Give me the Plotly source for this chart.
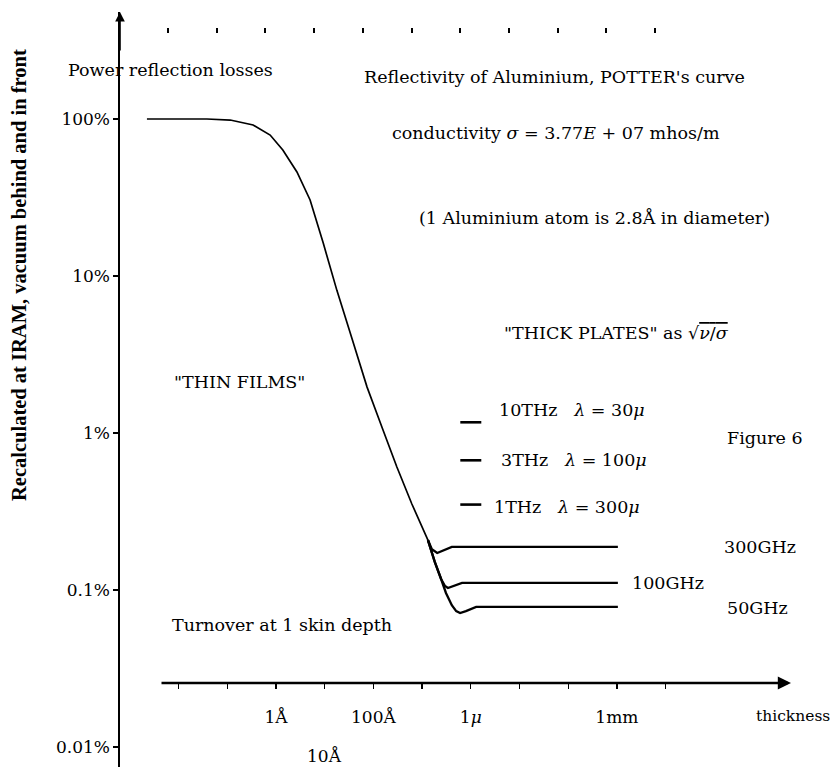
import plotly.graph_objects as go

# ---------------- data ----------------
# thickness as log10(d / Angstrom); power reflection losses in percent
thin_logd = [-2.65, -1.97, -1.42, -0.94, -0.47, -0.12, 0.14, 0.43, 0.70, 0.97,
             1.25, 1.56, 1.87, 2.18, 2.48, 2.79, 3.12]
thin_loss = [100, 100, 100, 98.5, 91.6, 79, 63.5, 46, 30.5, 16.2,
             8.1, 4.0, 1.96, 1.08, 0.61, 0.353, 0.208]

f300_logd = [3.20, 3.31, 3.43, 3.61, 7.02]
f300_loss = [0.182, 0.172, 0.178, 0.188, 0.188]

f100_logd = [3.26, 3.39, 3.47, 3.53, 3.63, 3.82, 7.02]
f100_loss = [0.151, 0.1175, 0.106, 0.103, 0.106, 0.111, 0.111]

f50_logd = [3.26, 3.39, 3.49, 3.61, 3.70, 3.78, 3.90, 4.11, 7.02]
f50_loss = [0.151, 0.1175, 0.0957, 0.080, 0.0734, 0.0714, 0.0734, 0.078, 0.078]

plate_names = ["300GHz", "100GHz", "50GHz"]

thick_names = ["10THz", "3THz", "1THz"]
thick_lambda = ["30", "100", "300"]
thick_logd = [4.0, 4.0, 4.0]
thick_loss = [1.17, 0.67, 0.35]

ytick_vals = [100, 10, 1, 0.1, 0.01]
ytick_text = ["100%", "10%", "1%", "0.1%", "0.01%"]
xtick_vals = [-2, -1, 0, 1, 2, 3, 4, 5, 6, 7, 8]
xtick_text = ["", "", "1Å", "", "100Å", "", "1<i>μ</i>", "", "", "1mm", ""]
xtick_low_val = 1
xtick_low_text = "10Å"

# ---------------- geometry helpers (pixels -> paper) ----------------
FW, FH = 833, 767
L, R, T, B = 120, 791, 12, 767


def pxx(x):
    return (x - L) / (R - L)


def pyy(y):
    return (B - y) / (B - T)


X0, XD = 276.0, 48.7      # pixel of 1 Angstrom, pixels per decade
Y0, YD = 119.0, 157.0     # pixel of 100 %, pixels per decade
x_range = [(L - X0) / XD, (R - X0) / XD]
y_range = [2 - (B - Y0) / YD, 2 + (Y0 - T) / YD]
top_shift = 10.6 / XD

SERIF = "DejaVu Serif"
INK = "#000000"

fig = go.Figure()

fig.add_trace(go.Scatter(x=thin_logd, y=thin_loss, mode="lines",
                         line=dict(color=INK, width=1.7), showlegend=False,
                         hoverinfo="skip"))
for lx, ly in [(f300_logd, f300_loss), (f100_logd, f100_loss), (f50_logd, f50_loss)]:
    fig.add_trace(go.Scatter(x=[thin_logd[-1]] + lx, y=[thin_loss[-1]] + ly,
                             mode="lines", line=dict(color=INK, width=2.3),
                             showlegend=False, hoverinfo="skip"))

fig.add_trace(go.Scatter(x=thick_logd, y=thick_loss, mode="markers",
                         marker=dict(symbol="line-ew", size=15,
                                     line=dict(width=2.6, color=INK)),
                         showlegend=False, hoverinfo="skip"))

# invisible trace carrying the top row of tick marks
fig.add_trace(go.Scatter(x=xtick_vals, y=[None] * len(xtick_vals), xaxis="x2",
                         mode="markers", showlegend=False, hoverinfo="skip"))

ann = []


def text(t, x, y, anchor="left", size=17.5, family=SERIF, **kw):
    ann.append(dict(text=t, x=pxx(x), y=pyy(y), xref="paper", yref="paper",
                    xanchor=anchor, yanchor="middle", showarrow=False,
                    font=dict(family=family, size=size, color=INK), **kw))


text("Power reflection losses", 66, 70)
text("Reflectivity of Aluminium, POTTER's curve", 362, 77)
text("conductivity <i>σ</i> = 3.77<i>E</i> + 07 mhos/m", 390, 133)
text("(1 Aluminium atom is 2.8Å in diameter)", 417, 218)
text('"THICK PLATES" as √<span style="text-decoration:overline"><i>ν</i>/<i>σ</i></span>',
     502, 333)
text('"THIN FILMS"', 172, 382)
for name, lam, tx, ty in zip(thick_names, thick_lambda, [497, 499, 492], [410, 460, 507]):
    text(name + "\u00a0\u00a0\u00a0<i>λ</i> = " + lam + "<i>μ</i>", tx, ty)
text("Figure 6", 725, 438)
for name, tx, ty in zip(plate_names, [722, 630, 725], [547, 583, 608]):
    text(name, tx, ty)
text("Turnover at 1 skin depth", 170, 625)
text("thickness", 832, 716, anchor="right", size=15.5)

# lower-row tick label of the thickness axis
ann.append(dict(text=xtick_low_text, x=xtick_low_val, y=pyy(756), xref="x", yref="paper",
                xanchor="center", yanchor="middle", showarrow=False,
                font=dict(family=SERIF, size=17, color=INK)))

# rotated axis title
ann.append(dict(text="<b>Recalculated at IRAM, vacuum behind and in front</b>",
                x=pxx(19), y=pyy(275), xref="paper", yref="paper", textangle=-90,
                xanchor="center", yanchor="middle", showarrow=False,
                font=dict(family="Liberation Serif", size=20.5, color=INK)))

# thickness axis line with arrow
ann.append(dict(text="", x=x_range[1], y=pyy(683), xref="x", yref="paper",
                ax=(160 - X0) / XD, ay=0, axref="x", ayref="pixel",
                showarrow=True, arrowhead=2, arrowsize=1.1, arrowwidth=2.4,
                arrowcolor=INK, standoff=0, startstandoff=0))
# arrow on top of the loss axis
ann.append(dict(text="", x=0, y=1, xref="paper", yref="paper", ax=0, ay=40,
                showarrow=True, arrowhead=2, arrowsize=1.2, arrowwidth=1.6,
                arrowcolor=INK, standoff=0, startstandoff=0))

fig.update_layout(
    width=FW, height=FH,
    margin=dict(l=L, r=FW - R, t=T, b=FH - B, pad=0),
    paper_bgcolor="white", plot_bgcolor="white",
    showlegend=False,
    annotations=ann,
    xaxis=dict(range=x_range, domain=[0, 1], anchor="free", position=pyy(683),
               showline=False, showgrid=False, zeroline=False,
               ticks="outside", ticklen=5, tickwidth=1.4, tickcolor=INK,
               tickvals=xtick_vals, ticktext=xtick_text, ticklabelstandoff=14,
               tickfont=dict(family=SERIF, size=17, color=INK)),
    xaxis2=dict(range=[x_range[0] + top_shift, x_range[1] + top_shift],
                overlaying="x", side="top", anchor="free", position=pyy(33),
                showline=False, showgrid=False, zeroline=False,
                ticks="outside", ticklen=5, tickwidth=2, tickcolor=INK,
                tickvals=xtick_vals, showticklabels=False),
    yaxis=dict(type="log", range=y_range, anchor="x", side="left",
               showline=True, linecolor=INK, linewidth=1.6,
               showgrid=False, zeroline=False,
               ticks="outside", ticklen=5, tickwidth=1.4, tickcolor=INK,
               tickvals=ytick_vals, ticktext=ytick_text,
               tickfont=dict(family=SERIF, size=17, color=INK)),
)

fig.write_html("out.html",
               config={"displayModeBar": False, "staticPlot": True},
               post_script="document.body.style.margin='0px';"
                           "document.body.style.overflow='hidden';")
